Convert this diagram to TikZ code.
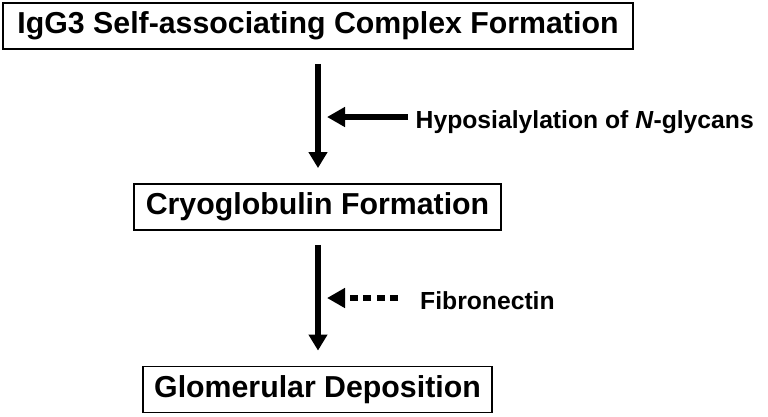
\documentclass[tikz,border=0pt]{standalone}
\usepackage{fontspec}
\setmainfont{Liberation Sans}
\usetikzlibrary{arrows.meta}

\begin{document}
\begin{tikzpicture}[x=1pt,y=-1pt,
    stage/.style={draw,line width=1.8pt,minimum height=46pt,inner sep=0pt,
      font=\fontsize{30.3}{32}\selectfont\bfseries},
    cause/.style={inner sep=0pt,anchor=base west,
      font=\fontsize{24.7}{27}\selectfont\bfseries},
    flow/.style={line width=5.4pt,-{Triangle[length=16pt,width=18pt]},
      shorten <=14pt,shorten >=15pt},
    effect/.style={line width=5.6pt,-{Triangle[length=18pt,width=19pt]}}]

    \useasboundingbox (0,0) rectangle (768,416);

    \node[stage,minimum width=630pt] (complex) at (318,26) {IgG3 Self-associating Complex Formation};
    \node[stage,minimum width=367pt] (cryo) at (317.5,207) {Cryoglobulin Formation};
    \node[stage,minimum width=349pt] (glom) at (317.5,389.5) {Glomerular Deposition};

    \draw[flow](complex.south)--(complex.south |- cryo.north);
    \draw[flow](complex.south |- cryo.south)--(complex.south |- glom.north);

    \node[cause] (hypo) at (415.5,128) {Hyposialylation of \textit{N}-glycans};
    \node[cause] (fibro) at (420,309) {Fibronectin};

    \coordinate (hypotail) at (408,117);
    \coordinate (hypotip) at (327,117);
    \coordinate (fibrotail) at (398,298);
    \coordinate (fibrotip) at (327,298);

    \draw[effect](hypotail)--(hypotip);
    \draw[effect,dash pattern=on 8pt off 5.5pt](fibrotail)--(fibrotip);
\end{tikzpicture}
\end{document}
